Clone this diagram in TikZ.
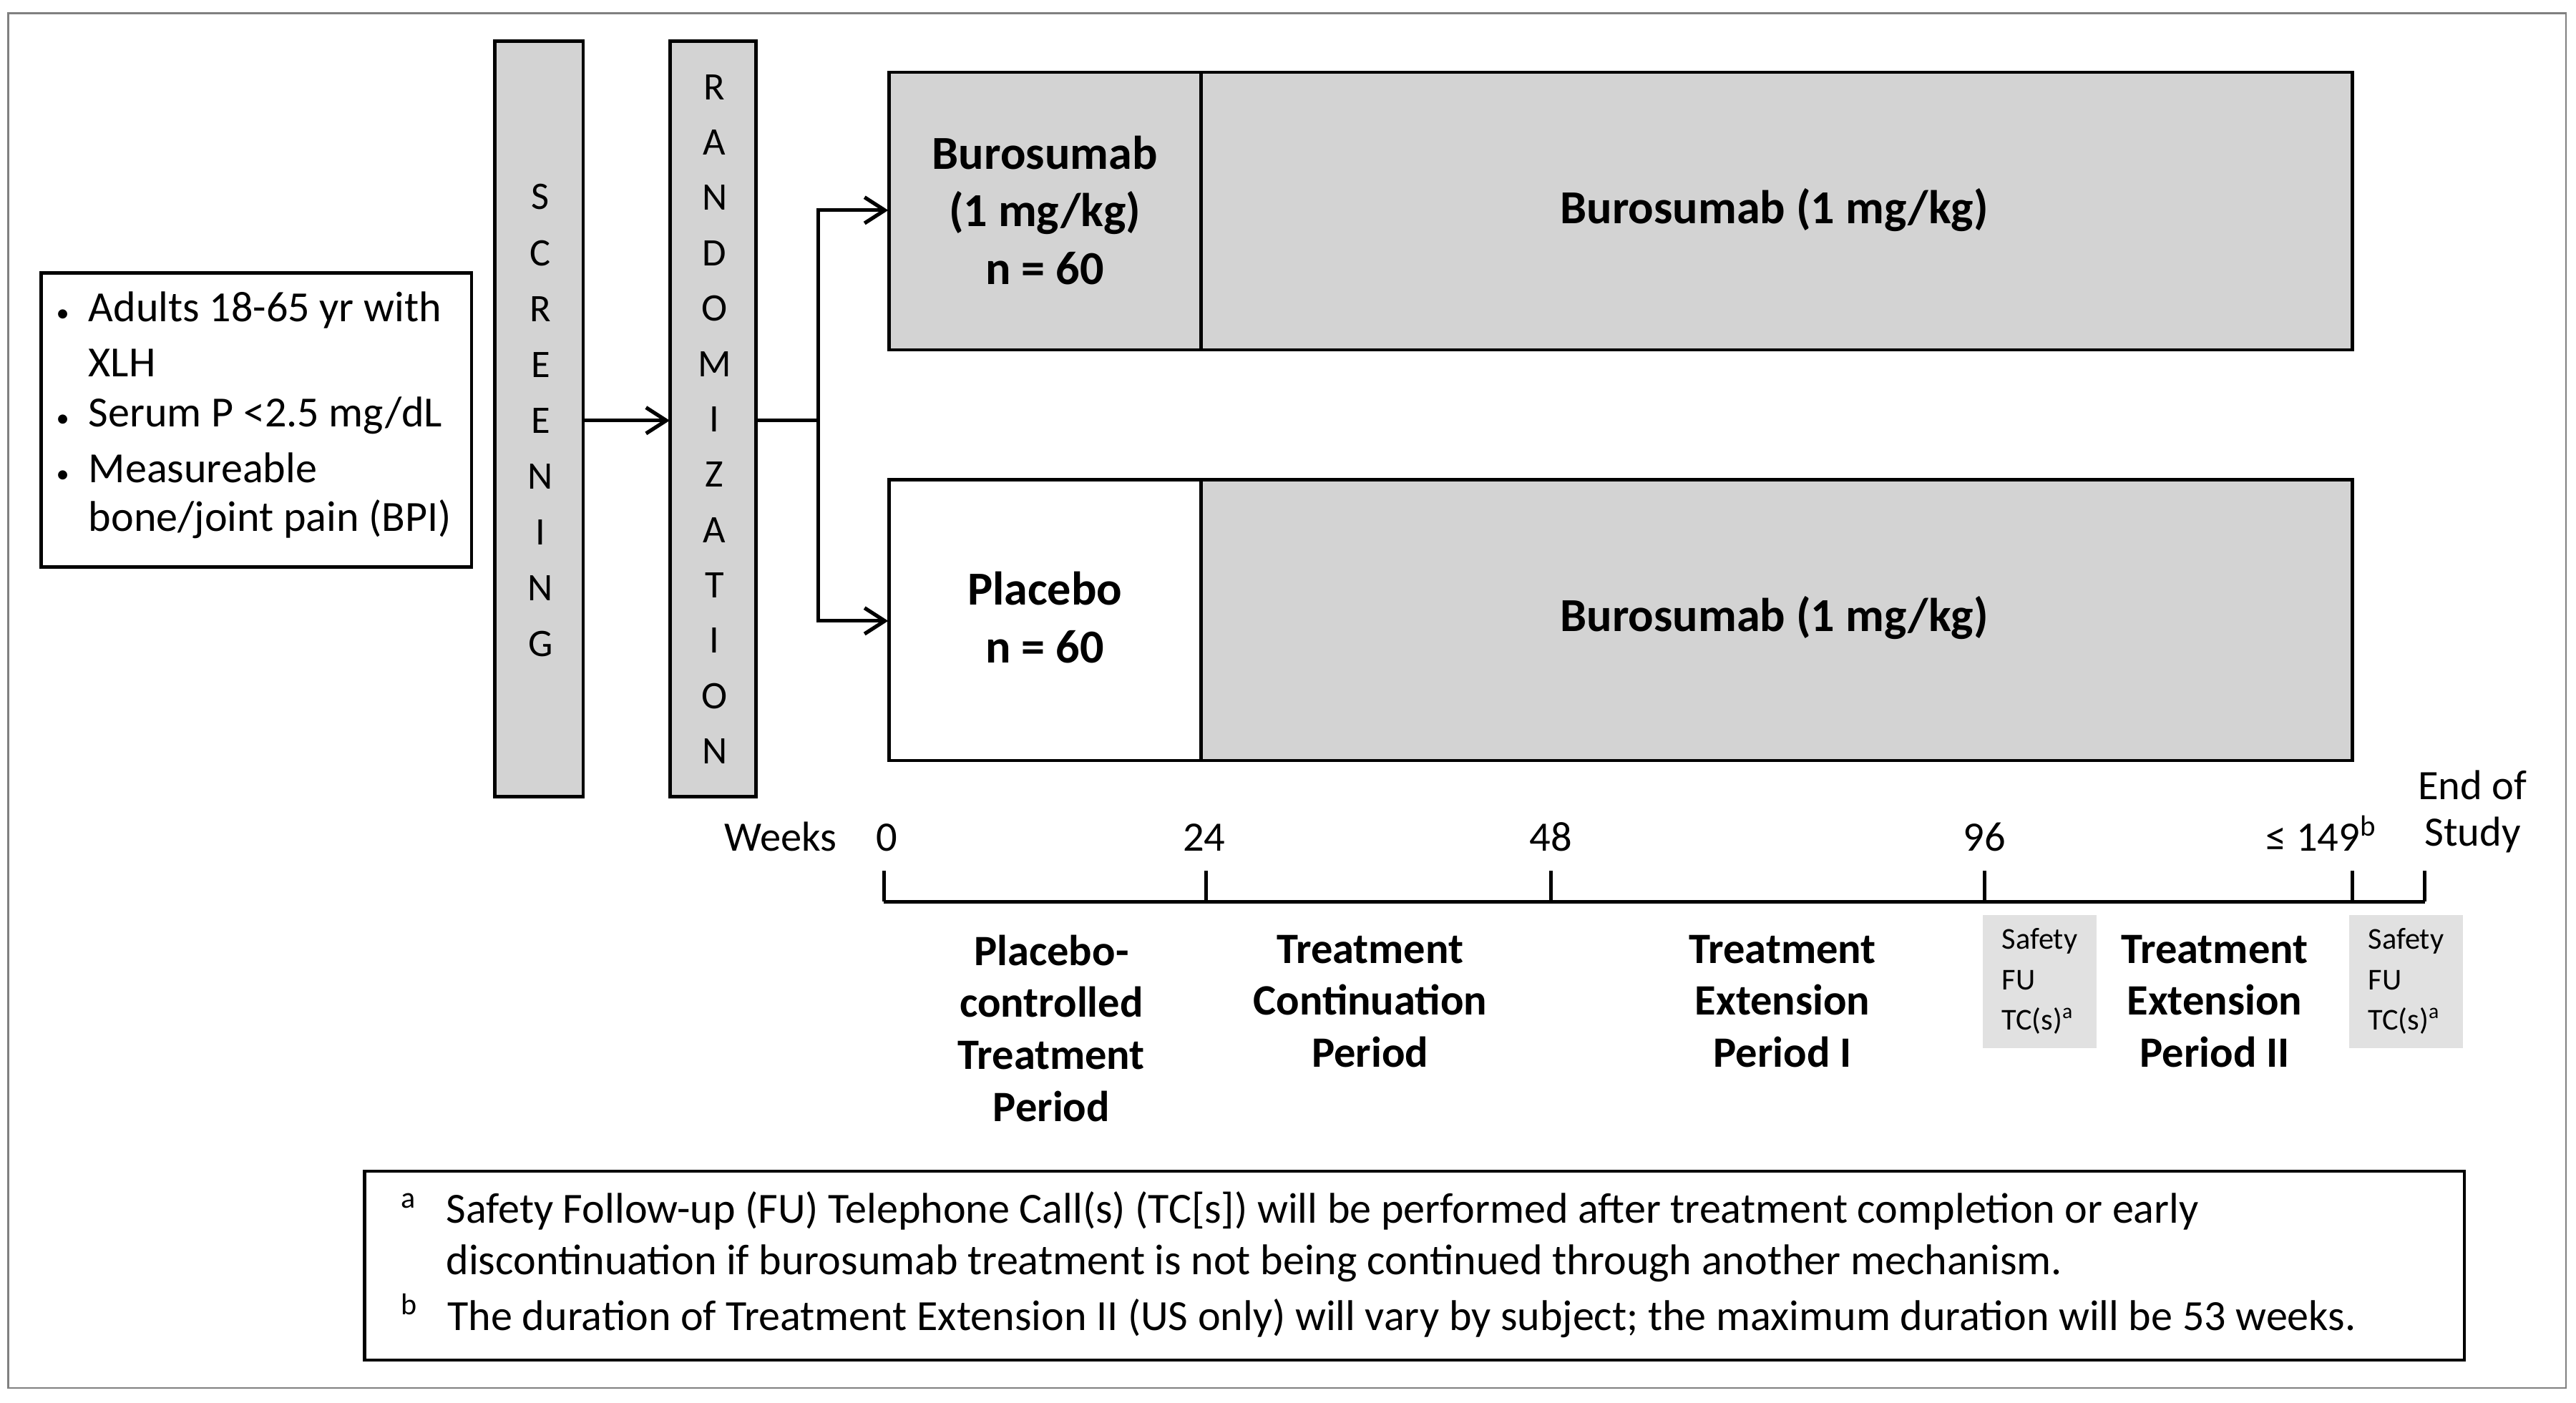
\documentclass[tikz,border=0pt]{standalone}
\usepackage{fontspec}
\setmainfont{Carlito}
\usetikzlibrary{arrows.meta}
\definecolor{bx}{RGB}{211,211,211}
\definecolor{sf}{RGB}{225,225,225}
\begin{document}
\begin{tikzpicture}[x=0.02cm,y=-0.02cm,
  bar/.style={draw,line width=1.2pt,fill=bx},
  arr/.style={-{Straight Barb[length=7pt,width=9pt]},line width=1.3pt},
  lt/.style={font=\fontsize{14.9}{16}\selectfont,align=left,anchor=west},
  bl/.style={font=\fontsize{16.4}{20}\selectfont\bfseries,align=center},
  per/.style={font=\fontsize{15}{18}\selectfont\bfseries,align=center,anchor=north},
  wk/.style={font=\fontsize{14.5}{16}\selectfont,anchor=base},
  sfb/.style={fill=sf,draw=none,font=\fontsize{10.5}{14}\selectfont,align=left,inner sep=2pt}]
\useasboundingbox (0,0) rectangle (1568,854);
\draw[gray,line width=0.6pt] (5,8) rectangle (1562,845);
% left box
\node[draw,line width=1.2pt,minimum width=262*0.02cm,minimum height=179*0.02cm] (crit) at (156,255.5) {};
\node[lt] at (28,189) {{\small•}\ \ Adults 18-65 yr with};
\node[lt] at (28,221) {\phantom{{\small•}\ \ }XLH};
\node[lt] at (28,253) {{\small•}\ \ Serum P <2.5 mg/dL};
\node[lt] at (28,285) {{\small•}\ \ Measureable};
\node[lt] at (28,316) {\phantom{{\small•}\ \ }bone/joint pain (BPI)};
% bars
\draw[bar] (301,25) rectangle (355,485);
\node[minimum width=54*0.02cm,minimum height=460*0.02cm] (scr) at (328,255) {};
\foreach \c [count=\i] in {S,C,R,E,E,N,I,N,G}
  \node[font=\fontsize{13.5}{15}\selectfont] at (329,{120+(\i-1)*34}) {\c};
\draw[bar] (408,25) rectangle (460,485);
\node[minimum width=52*0.02cm,minimum height=460*0.02cm] (rnd) at (434,255) {};
\foreach \c [count=\i] in {R,A,N,D,O,M,I,Z,A,T,I,O,N}
  \node[font=\fontsize{13.5}{15}\selectfont] at (435,{53+(\i-1)*33.7}) {\c};
\draw[arr] (scr.east |- 0,256) -- (rnd.west |- 0,256);
% arms
\draw[bar] (541,44) rectangle (1432,213);
\draw[line width=1.2pt] (731,44) -- (731,213);
\node[minimum width=891*0.02cm,minimum height=169*0.02cm] (top) at (986.5,128.5) {};
\draw[line width=1.2pt,fill=white] (541,292) rectangle (731,463);
\draw[bar] (731,292) rectangle (1432,463);
\node[minimum width=891*0.02cm,minimum height=171*0.02cm] (bot) at (986.5,377.5) {};
\node[bl] at (636,128) {Burosumab\\(1 mg/kg)\\n = 60};
\node[bl] at (1080,128) {Burosumab (1 mg/kg)};
\node[bl] at (636,376) {Placebo\\n = 60};
\node[bl] at (1080,376) {Burosumab (1 mg/kg)};
\coordinate (sp) at (498,256);
\draw[line width=1.3pt] (rnd.east |- sp) -- (sp);
\draw[arr] (sp) |- (top.west |- 0,128);
\draw[arr] (sp) |- (bot.west |- 0,378);
% timeline
\draw[line width=1.3pt] (538,549) -- (1476,549);
\foreach \x in {538,734,944,1208,1432,1476} \draw[line width=1.3pt] (\x,549) -- (\x,530);
\node[wk] at (475,518) {Weeks};
\node[wk] at (540,518) {0};
\node[wk] at (733,518) {24};
\node[wk] at (944,518) {48};
\node[wk] at (1208,518) {96};
\node[wk] at (1413,518) {≤ 149\textsuperscript{b}};
\node[font=\fontsize{14.5}{16}\selectfont,align=center] at (1505,494) {End of\\Study};
\node[per] at (640,563) {Placebo-\\controlled\\Treatment\\Period};
\node[per] at (834,563) {Treatment\\Continuation\\Period};
\node[per] at (1085,563) {Treatment\\Extension\\Period I};
\node[per] at (1348,563) {Treatment\\Extension\\Period II};
\node[sfb,minimum width=69*0.02cm,minimum height=81*0.02cm] at (1241.5,597.5) {Safety\\FU\\TC(s)\textsuperscript{a}};
\node[sfb,minimum width=69*0.02cm,minimum height=81*0.02cm] at (1464.5,597.5) {Safety\\FU\\TC(s)\textsuperscript{a}};
% footnote
\draw[line width=1.2pt] (222,713) rectangle (1500,828);
\node[lt] at (238,737) {\textsuperscript{a}\ \ \ Safety Follow-up (FU) Telephone Call(s) (TC[s]) will be performed after treatment completion or early};
\node[lt] at (238,769) {\phantom{\textsuperscript{a}\ \ \ }discontinuation if burosumab treatment is not being continued through another mechanism.};
\node[lt] at (238,801) {\textsuperscript{b}\ \ \ The duration of Treatment Extension II (US only) will vary by subject; the maximum duration will be 53 weeks.};
\end{tikzpicture}
\end{document}
